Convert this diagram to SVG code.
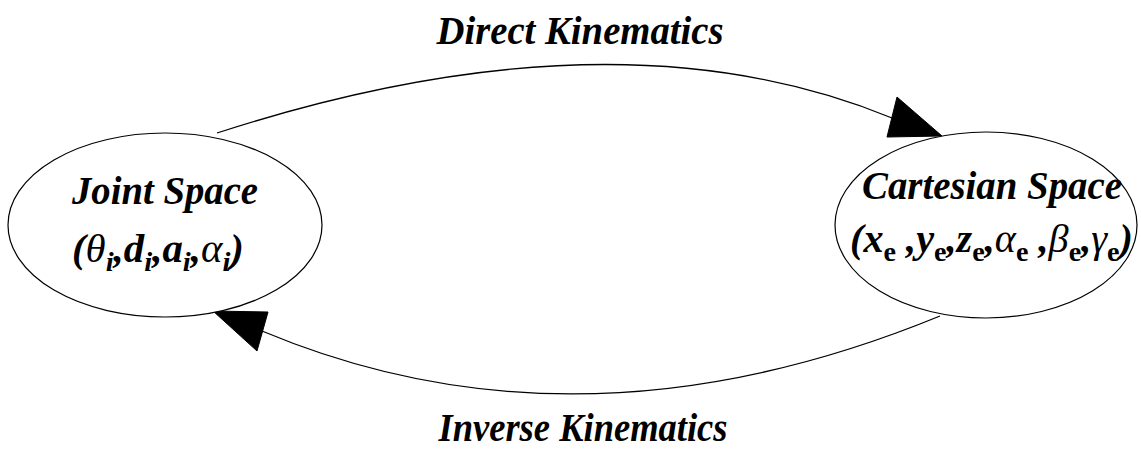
<svg xmlns="http://www.w3.org/2000/svg" width="1141" height="453" viewBox="0 0 1141 453">
<style>
.node{fill:#fff;stroke:#000;stroke-width:1.2}
.edge{fill:none;stroke:#000;stroke-width:1.3}
.head{fill:#000;stroke:#000;stroke-width:1}
.lbl{font-family:"Liberation Serif",serif;font-weight:bold;font-style:italic;font-size:41px;fill:#000}
.f{font-size:40px}
.sym{font-weight:normal}
.sub{font-size:28px}
.up{font-style:normal}
</style>
<rect width="1141" height="453" fill="#fff"/>
<g id="edges">
<g id="direct">
<path class="edge" d="M217,133 Q615,4 892,118"/>
<polygon class="head" points="887,137 897,97 942,136"/>
</g>
<g id="inverse">
<path class="edge" d="M940,316 Q579,464 262,331"/>
<polygon class="head" points="213,311 268,312 257,351"/>
</g>
</g>
<g id="joint">
<ellipse class="node" cx="165" cy="225" rx="157" ry="92"/>
<text class="lbl" x="165" y="204" text-anchor="middle" textLength="186" lengthAdjust="spacingAndGlyphs">Joint Space</text>
<text class="lbl f" x="72" y="262" textLength="172" lengthAdjust="spacingAndGlyphs">(<tspan class="sym">θ</tspan><tspan class="sub" dy="9">i</tspan><tspan dy="-9">,d</tspan><tspan class="sub" dy="9">i</tspan><tspan dy="-9">,a</tspan><tspan class="sub" dy="9">i</tspan><tspan dy="-9">,</tspan><tspan class="sym">α</tspan><tspan class="sub" dy="9">i</tspan><tspan dy="-9">)</tspan></text>
</g>
<g id="cartesian">
<ellipse class="node" cx="986" cy="225" rx="151" ry="93"/>
<text class="lbl" x="992" y="199" text-anchor="middle" textLength="260" lengthAdjust="spacingAndGlyphs">Cartesian Space</text>
<text class="lbl f" x="850" y="252" textLength="283" lengthAdjust="spacingAndGlyphs">(x<tspan class="sub up" dy="9">e</tspan><tspan dy="-9"> ,y</tspan><tspan class="sub up" dy="9">e</tspan><tspan dy="-9">,z</tspan><tspan class="sub up" dy="9">e</tspan><tspan dy="-9">,</tspan><tspan class="sym">α</tspan><tspan class="sub up" dy="9">e</tspan><tspan dy="-9"> ,</tspan><tspan class="sym">β</tspan><tspan class="sub up" dy="9">e</tspan><tspan dy="-9">,</tspan><tspan class="sym">γ</tspan><tspan class="sub up" dy="9">e</tspan><tspan dy="-9">)</tspan></text>
</g>
<g id="labels">
<text class="lbl" x="580" y="44" text-anchor="middle" textLength="287" lengthAdjust="spacingAndGlyphs">Direct Kinematics</text>
<text class="lbl" x="583" y="441" text-anchor="middle" textLength="289" lengthAdjust="spacingAndGlyphs">Inverse Kinematics</text>
</g>
</svg>
